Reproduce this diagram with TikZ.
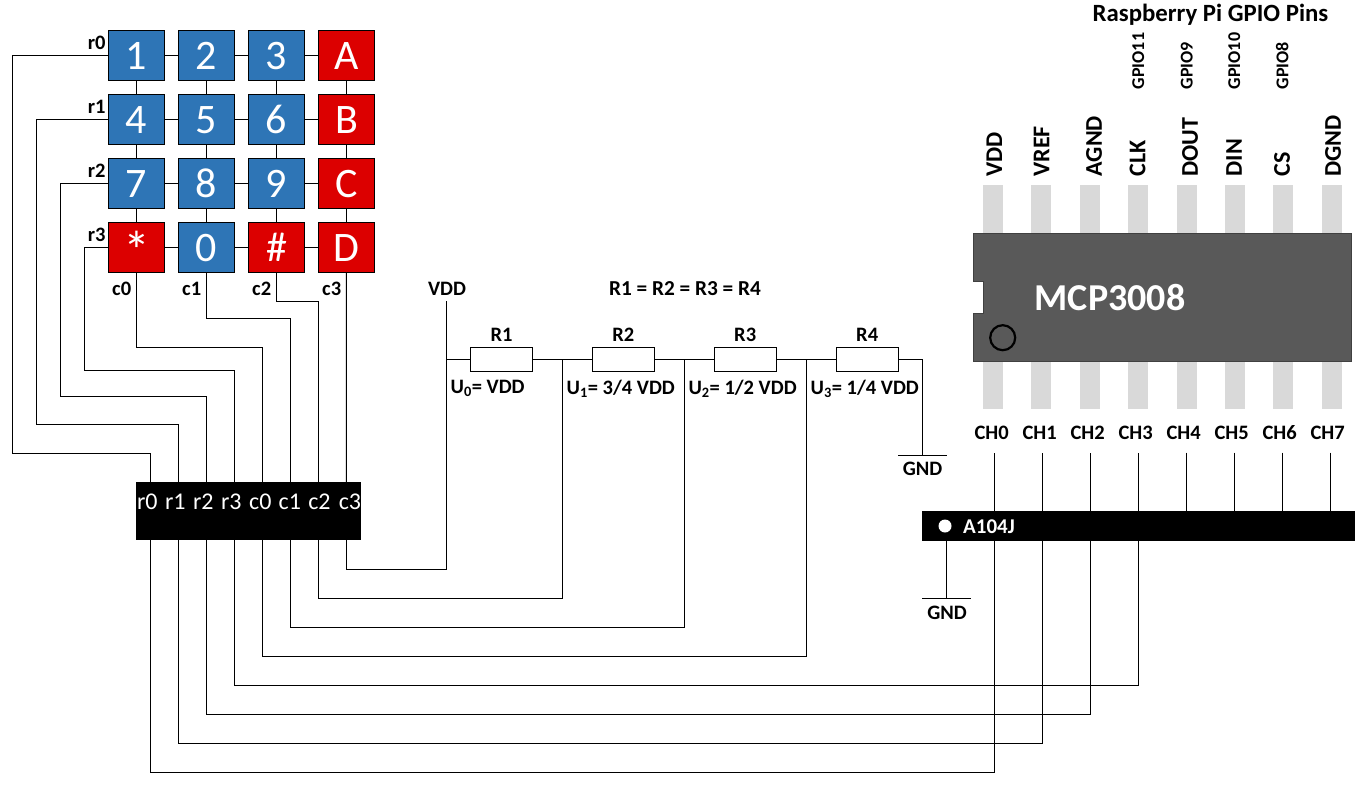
\documentclass[tikz,border=0pt]{standalone}
\usepackage{fontspec}
\setmainfont{Carlito}
\newcommand{\fs}[1]{\fontsize{#1}{#1}\selectfont}
\definecolor{keyblue}{HTML}{2E75B6}
\definecolor{keyred}{HTML}{DC0000}
\definecolor{chipgrey}{HTML}{595959}
\definecolor{chipedge}{HTML}{404040}
\definecolor{pingrey}{HTML}{D9D9D9}
\tikzset{
 key/.style={draw=black,line width=1pt,minimum width=55.5pt,minimum height=50pt,inner sep=0pt,text=white,font=\fs{42},text height=29pt,text depth=0pt},
 bluekey/.style={key,fill=keyblue},
 redkey/.style={key,fill=keyred},
 wire/.style={draw=black,line width=1pt},
 lab/.style={font=\fs{20.5}\bfseries,inner sep=0pt,text=black},
 toplab/.style={font=\fs{24}\bfseries,inner sep=0pt,rotate=90,anchor=west},
 gpiolab/.style={font=\fs{18}\bfseries,inner sep=0pt,rotate=90,anchor=west},
 res/.style={draw=black,line width=1pt,fill=white,minimum width=62pt,minimum height=24.3pt,inner sep=0pt},
 blackbar/.style={fill=black,draw=none,inner sep=0pt},
 pinlab/.style={font=\fs{24},text=white,inner sep=0pt},
}
\begin{document}
\begin{tikzpicture}[x=1pt,y=-1pt]
\useasboundingbox (0,0) rectangle (1369,790);
% keypad
\coordinate (k1) at (136.5,55.3);
\coordinate (k2) at (206.5,55.3);
\coordinate (k3) at (276.5,55.3);
\coordinate (kA) at (346.5,55.3);
\coordinate (k4) at (136.5,119.3);
\coordinate (k5) at (206.5,119.3);
\coordinate (k6) at (276.5,119.3);
\coordinate (kB) at (346.5,119.3);
\coordinate (k7) at (136.5,183.3);
\coordinate (k8) at (206.5,183.3);
\coordinate (k9) at (276.5,183.3);
\coordinate (kC) at (346.5,183.3);
\coordinate (kS) at (136.5,247.3);
\coordinate (k0) at (206.5,247.3);
\coordinate (kH) at (276.5,247.3);
\coordinate (kD) at (346.5,247.3);
\foreach \a/\b in {k1/k2,k2/k3,k3/kA,k4/k5,k5/k6,k6/kB,k7/k8,k8/k9,k9/kC,kS/k0,k0/kH,kH/kD,
 k1/k4,k4/k7,k7/kS,k2/k5,k5/k8,k8/k0,k3/k6,k6/k9,k9/kH,kA/kB,kB/kC,kC/kD}
  \draw[wire] (\a) -- (\b);
% coordinates of the connector chip pins
\coordinate (t0) at (150.3,482); \coordinate (b0) at (150.3,540);
\coordinate (t1) at (178.3,482); \coordinate (b1) at (178.3,540);
\coordinate (t2) at (206.3,482); \coordinate (b2) at (206.3,540);
\coordinate (t3) at (234.3,482); \coordinate (b3) at (234.3,540);
\coordinate (t4) at (262.3,482); \coordinate (b4) at (262.3,540);
\coordinate (t5) at (290.3,482); \coordinate (b5) at (290.3,540);
\coordinate (t6) at (318.3,482); \coordinate (b6) at (318.3,540);
\coordinate (t7) at (346.3,482); \coordinate (b7) at (346.3,540);
% ADC channel wire tops
\coordinate (ch0) at (994.3,452.7);
\coordinate (ch1) at (1042.3,452.7);
\coordinate (ch2) at (1090.3,452.7);
\coordinate (ch3) at (1138.3,452.7);
\coordinate (ch4) at (1186.3,452.7);
\coordinate (ch5) at (1234.3,452.7);
\coordinate (ch6) at (1282.3,452.7);
\coordinate (ch7) at (1330.3,452.7);
% keypad to chip
\draw[wire] (k1) -| (12.5,453.5) -| (t0);
\draw[wire] (k4) -| (36.3,424.5) -| (t1);
\draw[wire] (k7) -| (60.3,396) -| (t2);
\draw[wire] (kS) -| (84.3,370) -| (t3);
\draw[wire] (kS) |- (262.3,347) -- (t4);
\draw[wire] (k0) |- (290.3,318.3) -- (t5);
\draw[wire] (kH) |- (318.3,301.7) -- (t6);
\draw[wire] (kD) -- (t7);
% keys on top of the wires
\foreach \n/\s/\t in {k1/bluekey/1,k2/bluekey/2,k3/bluekey/3,kA/redkey/A,
 k4/bluekey/4,k5/bluekey/5,k6/bluekey/6,kB/redkey/B,
 k7/bluekey/7,k8/bluekey/8,k9/bluekey/9,kC/redkey/C,
 kS/redkey/{\fs{54}\raisebox{-8pt}{*}},k0/bluekey/0,kH/redkey/\#,kD/redkey/D}
  \node[\s] (key\n) at (\n) {\t};
\node[lab] at (96.7,43) {r0};
\node[lab] at (96.7,107) {r1};
\node[lab] at (96.7,171) {r2};
\node[lab] at (96.7,235) {r3};
\node[lab] at (121.7,289) {c0};
\node[lab] at (191.7,289) {c1};
\node[lab] at (261.7,289) {c2};
\node[lab] at (331.7,289) {c3};
% resistors
\coordinate (vdd) at (446.5,301);
\coordinate (j0) at (446.5,359.5);
\coordinate (j1) at (562.3,359.5);
\coordinate (j2) at (684.3,359.5);
\coordinate (j3) at (806.3,359.5);
\coordinate (j4) at (922.5,359.5);
\coordinate (gnda) at (922.5,455.8);
\coordinate (r1c) at (501.5,359.5);
\coordinate (r2c) at (623.3,359.5);
\coordinate (r3c) at (745.2,359.5);
\coordinate (r4c) at (867.2,359.5);
\draw[wire] (j0) -- (j4) -- (gnda);
\node[res] (R1) at (r1c) {};
\node[res] (R2) at (r2c) {};
\node[res] (R3) at (r3c) {};
\node[res] (R4) at (r4c) {};
\draw[wire] (898,455.8) -- (946.7,455.8);
\node[lab] at (501.5,335) {R1};
\node[lab] at (623.3,335) {R2};
\node[lab] at (745.2,335) {R3};
\node[lab] at (867.2,335) {R4};
\node[lab] at (447,289) {VDD};
\node[lab,font=\fs{21.3}\bfseries] at (685,289) {R1 = R2 = R3 = R4};
\node[lab,anchor=west] at (450.5,388.5) {U\textsubscript{0}= VDD};
\node[lab,anchor=west] at (566.5,388.5) {U\textsubscript{1}= 3/4 VDD};
\node[lab,anchor=west] at (688.3,388.5) {U\textsubscript{2}= 1/2 VDD};
\node[lab,anchor=west] at (810.5,388.5) {U\textsubscript{3}= 1/4 VDD};
\node[lab] at (922.5,469) {GND};
% chip to divider and ADC
\draw[wire] (b7) |- (446.5,569.3) -- (vdd);
\draw[wire] (b6) |- (562.3,598.3) -- (j1);
\draw[wire] (b5) |- (684.3,627.3) -- (j2);
\draw[wire] (b4) |- (806.3,656.3) -- (j3);
\draw[wire] (b3) |- (1138.3,685.3) -- (ch3);
\draw[wire] (b2) |- (1090.3,714.3) -- (ch2);
\draw[wire] (b1) |- (1042.3,743.3) -- (ch1);
\draw[wire] (b0) |- (994.3,772.3) -- (ch0);
\draw[wire] (ch4) -- (1186.3,511);
\draw[wire] (ch5) -- (1234.3,511);
\draw[wire] (ch6) -- (1282.3,511);
\draw[wire] (ch7) -- (1330.3,511);
% black connector chip
\node[blackbar,minimum width=225pt,minimum height=58.5pt] (conn) at (248.5,511.2) {};
\foreach \x/\t in {147.3/r0,175.3/r1,203.3/r2,231.3/r3,260.3/c0,289.8/c1,319.5/c2,350/c3}
  \node[pinlab] at (\x,501.5) {\t};
% A104J
\node[blackbar,minimum width=433pt,minimum height=29.7pt] (a104) at (1138.5,525.9) {};
\fill[white] (945,526) circle (6.5pt);
\node[font=\fs{21}\bfseries,text=white,inner sep=0pt,anchor=west] at (963,527) {A104J};
\coordinate (gndb) at (946.3,598.3);
\draw[wire] (a104.south -| gndb) -- (gndb);
\draw[wire] (922,598.3) -- (971,598.3);
\node[lab] at (947,613) {GND};
% MCP3008
\foreach \x in {983,1031.4,1080,1128.3,1176.7,1225,1273.3,1321.7}{
  \fill[pingrey] (\x,185) rectangle ++(20,48.5);
  \fill[pingrey] (\x,361) rectangle ++(20,48);
}
\draw[fill=chipgrey,draw=chipedge,line width=1pt] (973.3,233.3) -- (1351.3,233.3) -- (1351.3,361) -- (973.3,361) -- (973.3,313) -- (983.3,313) -- (983.3,281.7) -- (973.3,281.7) -- cycle;
\draw[draw=black,line width=2.2pt] (1002.7,337.7) circle (12.5pt);
\node[font=\fs{38}\bfseries,text=white,inner sep=0pt] at (1110,298) {MCP3008};
\node[toplab] at (994.3,176.7) {VDD};
\node[toplab] at (1041.7,176.7) {VREF};
\node[toplab] at (1094,176.7) {AGND};
\node[toplab] at (1137.7,176.7) {CLK};
\node[toplab] at (1190,176.7) {DOUT};
\node[toplab] at (1234,176.7) {DIN};
\node[toplab] at (1282,176.7) {CS};
\node[toplab] at (1333,176.7) {DGND};
\node[gpiolab] at (1138.3,89.3) {GPIO11};
\node[gpiolab] at (1186.7,89.3) {GPIO9};
\node[gpiolab] at (1234.3,89.3) {GPIO10};
\node[gpiolab] at (1282.3,89.3) {GPIO8};
\node[font=\fs{24.8}\bfseries,inner sep=0pt] at (1210.5,15) {Raspberry Pi GPIO Pins};
\foreach \x/\t in {991.7/CH0,1039.7/CH1,1087.7/CH2,1135.7/CH3,1183.7/CH4,1231.7/CH5,1279.7/CH6,1327.7/CH7}
  \node[lab] at (\x,432.7) {\t};
\end{tikzpicture}
\end{document}
